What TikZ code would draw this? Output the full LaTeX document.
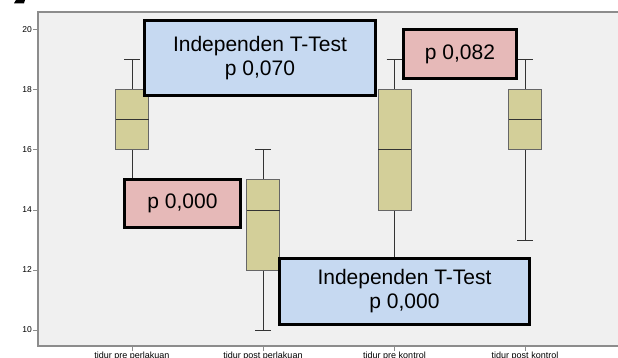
\documentclass[tikz,border=0pt]{standalone}
\usepackage{fontspec}
\setmainfont{Liberation Sans}
\usetikzlibrary{positioning}
\definecolor{plotBg}{HTML}{F0F0F0}
\definecolor{boxFill}{HTML}{D3CF99}
\definecolor{testBlue}{HTML}{C6D9F1}
\definecolor{testPink}{HTML}{E6B9B8}
\tikzset{%
	% Specifications for style of nodes:
	base/.style = {rectangle, draw=black, line width=2.6pt,
		inner sep=0pt, align=center,
		text centered, font=\fontsize{21pt}{24pt}\selectfont},
	testBox/.style = {base, fill=testBlue},
	pBox/.style = {base, fill=testPink},
	% lines of the plot
	frameLine/.style = {draw=black!45, line width=1.4pt},
	whisker/.style = {draw=black!80, line width=1pt},
	quart/.style = {draw=black!60, fill=boxFill, line width=1pt},
	tickLabel/.style = {font=\fontsize{8.5pt}{9pt}\selectfont, anchor=east, inner sep=1pt},
	catLabel/.style = {font=\fontsize{9pt}{10pt}\selectfont, anchor=base, inner sep=0pt}
}
% x, min, q1, median, q3, max
\newcommand{\plotBox}[6]{%
	\draw[whisker] (#1,{630-30*#2}) -- (#1,{630-30*#6});
	\draw[whisker] (#1-8,{630-30*#2}) -- (#1+8,{630-30*#2});
	\draw[whisker] (#1-8,{630-30*#6}) -- (#1+8,{630-30*#6});
	\draw[quart] (#1-16.5,{630-30*#3}) rectangle (#1+16.5,{630-30*#5});
	\draw[whisker] (#1-16.5,{630-30*#4}) -- (#1+16.5,{630-30*#4});
}
\begin{document}
\begin{tikzpicture}[x=1pt, y=-1pt]
		\useasboundingbox (0,0) rectangle (618,358);
		\clip (0,0) rectangle (618,358);
		\fill (14,3.3) -- (16,0) -- (25,0) -- (24,3.3) -- cycle;
		\fill[plotBg] (38,12) rectangle (625,346);
		\draw[frameLine] (625,12) -- (38,12) -- (38,346) -- (625,346);
		\foreach \v in {10,12,...,20} {
			\draw[frameLine, line width=1pt] (33,{630-30*\v}) -- (38,{630-30*\v});
			\node[tickLabel] (yl\v) at (33,{630-30*\v}) {\v};
		}
		\foreach \x/\name/\txt in {132/pre/tidur pre perlakuan, 263/post/tidur post perlakuan, 394.5/preK/tidur pre kontrol, 525/postK/tidur post kontrol} {
			\draw[frameLine, line width=1pt] (\x,346) -- (\x,351);
			\node[catLabel] (cat\name) at (\x,358.5) {\txt};
		}
		\plotBox{132}{15}{16}{17}{18}{19}
		\plotBox{263}{10}{12}{14}{15}{16}
		\plotBox{394.5}{12}{14}{16}{18}{19}
		\plotBox{525}{13}{16}{17}{18}{19}
		\node (test1) [testBox, minimum width=231pt, minimum height=75pt] at (260,58) {Independen T-Test\\p 0,070};
		\node (pKontrol) [pBox, minimum width=113pt, minimum height=49pt] at (460,54) {p 0,082};
		\node (pPerlakuan) [pBox, minimum width=116pt, minimum height=48pt] at (182.5,203.5) {p 0,000};
		\node (test2) [testBox, minimum width=250pt, minimum height=66pt] at (404.5,291.5) {Independen T-Test\\p 0,000};
	\end{tikzpicture}
\end{document}
